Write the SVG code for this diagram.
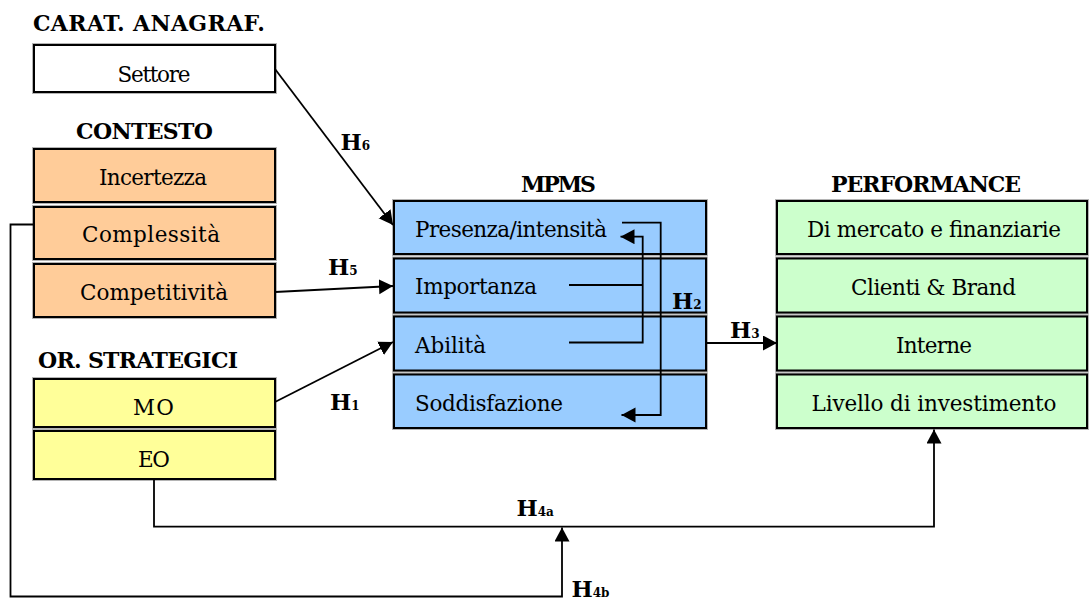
<svg xmlns="http://www.w3.org/2000/svg" width="1090" height="601" viewBox="0 0 1090 601">
<style>
.halo{fill:none;stroke:#b4b4b4;stroke-width:4}
.bx{stroke:#000;stroke-width:2}
.w{fill:#ffffff}.o{fill:#ffcc99}.y{fill:#ffff99}.b{fill:#99ccff}.g{fill:#ccffcc}
.t{font-family:"DejaVu Serif",serif;font-size:21.5px;fill:#000}
.tb{font-family:"DejaVu Serif",serif;font-size:22px;font-weight:bold;fill:#000}
.h{font-family:"DejaVu Serif",serif;font-size:22.5px;font-weight:bold;fill:#000}
.sub{font-size:12px}
.c{fill:none;stroke:#000;stroke-width:1.8}
</style>
<defs>
<marker id="arr" markerUnits="userSpaceOnUse" markerWidth="15" markerHeight="16" refX="14" refY="7.5" orient="auto" viewBox="0 0 15 16">
<path d="M0,0 L14,7.5 L0,15 z" fill="#000"/>
</marker>
</defs>

<g id="titles">
<text class="tb" x="33" y="31" textLength="232">CARAT. ANAGRAF.</text>
<text class="tb" x="76" y="139" textLength="137">CONTESTO</text>
<text class="tb" x="38" y="368" textLength="200">OR. STRATEGICI</text>
<text class="tb" x="521" y="192" textLength="75">MPMS</text>
<text class="tb" x="831" y="192" textLength="190">PERFORMANCE</text>
</g>

<g id="settore"><rect class="halo" x="34" y="45" width="241" height="47"/><rect class="bx w" x="34" y="45" width="241" height="47"/><text class="t" x="154" y="82" text-anchor="middle" textLength="73">Settore</text></g>

<g id="incertezza"><rect class="halo" x="34" y="149" width="241" height="53"/><rect class="bx o" x="34" y="149" width="241" height="53"/><text class="t" x="153" y="185" text-anchor="middle" textLength="108">Incertezza</text></g>
<g id="complessita"><rect class="halo" x="34" y="207" width="241" height="52"/><rect class="bx o" x="34" y="207" width="241" height="52"/><text class="t" x="151" y="242" text-anchor="middle" textLength="138">Complessità</text></g>
<g id="competitivita"><rect class="halo" x="34" y="264" width="241" height="53"/><rect class="bx o" x="34" y="264" width="241" height="53"/><text class="t" x="154" y="300" text-anchor="middle" textLength="148">Competitività</text></g>

<g id="mo"><rect class="halo" x="34" y="379" width="241" height="48"/><rect class="bx y" x="34" y="379" width="241" height="48"/><text class="t" x="153.5" y="415" text-anchor="middle" textLength="41">MO</text></g>
<g id="eo"><rect class="halo" x="34" y="431" width="241" height="48"/><rect class="bx y" x="34" y="431" width="241" height="48"/><text class="t" x="154" y="467" text-anchor="middle" textLength="32">EO</text></g>

<g id="presenza"><rect class="halo" x="394" y="201" width="312" height="53"/><rect class="bx b" x="394" y="201" width="312" height="53"/><text class="t" x="415" y="236.5" textLength="192">Presenza/intensità</text></g>
<g id="importanza"><rect class="halo" x="394" y="258.5" width="312" height="54"/><rect class="bx b" x="394" y="258.5" width="312" height="54"/><text class="t" x="415" y="294" textLength="122">Importanza</text></g>
<g id="abilita"><rect class="halo" x="394" y="316.5" width="312" height="54"/><rect class="bx b" x="394" y="316.5" width="312" height="54"/><text class="t" x="415" y="353" textLength="71">Abilità</text></g>
<g id="soddisfazione"><rect class="halo" x="394" y="374.5" width="312" height="53.5"/><rect class="bx b" x="394" y="374.5" width="312" height="53.5"/><text class="t" x="415" y="410.5" textLength="148">Soddisfazione</text></g>

<g id="mercato"><rect class="halo" x="777" y="201" width="310" height="53"/><rect class="bx g" x="777" y="201" width="310" height="53"/><text class="t" x="934" y="236.5" text-anchor="middle" textLength="254">Di mercato e finanziarie</text></g>
<g id="clienti"><rect class="halo" x="777" y="258.5" width="310" height="54"/><rect class="bx g" x="777" y="258.5" width="310" height="54"/><text class="t" x="933.5" y="295" text-anchor="middle" textLength="165">Clienti &amp; Brand</text></g>
<g id="interne"><rect class="halo" x="777" y="316.5" width="310" height="54"/><rect class="bx g" x="777" y="316.5" width="310" height="54"/><text class="t" x="934" y="353" text-anchor="middle" textLength="76">Interne</text></g>
<g id="livello"><rect class="halo" x="777" y="374.5" width="310" height="53.5"/><rect class="bx g" x="777" y="374.5" width="310" height="53.5"/><text class="t" x="934" y="410.5" text-anchor="middle" textLength="245">Livello di investimento</text></g>

<g id="connectors">
<line class="c" x1="275" y1="69" x2="393" y2="225" marker-end="url(#arr)"/>
<line class="c" x1="275" y1="292" x2="393" y2="286" marker-end="url(#arr)"/>
<line class="c" x1="275" y1="402" x2="393" y2="342" marker-end="url(#arr)"/>
<line class="c" x1="706" y1="343" x2="777" y2="343" marker-end="url(#arr)"/>
<polyline class="c" points="622,222.7 660.7,222.7 660.7,415 621.5,415" marker-end="url(#arr)"/>
<polyline class="c" points="569,285 642.7,285"/>
<polyline class="c" points="569,342.5 642.7,342.5 642.7,236.7 620.5,236.7" marker-end="url(#arr)"/>
<polyline class="c" points="154,479 154,526.7 934,526.7 934,429.5" marker-end="url(#arr)"/>
<polyline class="c" points="34,224.5 10.5,224.5 10.5,596.5 562,596.5 562,527.5" marker-end="url(#arr)"/>
</g>

<g id="labels">
<text class="h" x="340.5" y="150">H<tspan class="sub">6</tspan></text>
<text class="h" x="328" y="275">H<tspan class="sub">5</tspan></text>
<text class="h" x="330" y="410">H<tspan class="sub">1</tspan></text>
<text class="h" x="672" y="309">H<tspan class="sub">2</tspan></text>
<text class="h" x="730" y="338">H<tspan class="sub">3</tspan></text>
<text class="h" x="516.5" y="516">H<tspan class="sub">4a</tspan></text>
<text class="h" x="571.5" y="597">H<tspan class="sub">4b</tspan></text>
</g>
</svg>
